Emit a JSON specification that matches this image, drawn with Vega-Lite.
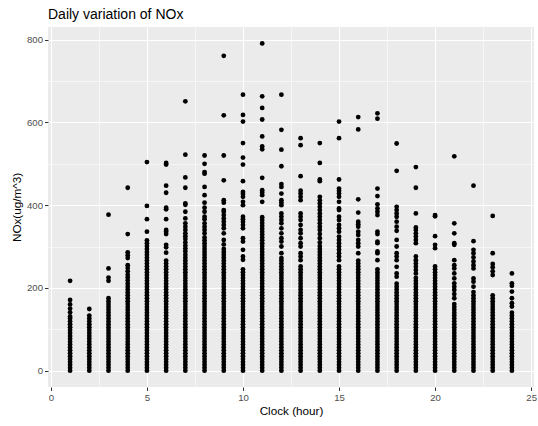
{
"$schema": "https://vega.github.io/schema/vega-lite/v6.json",
"width": 486, "height": 360,
"autosize": {"type": "none"},
"padding": {"left": 48, "top": 27, "right": 4, "bottom": 39},
"background": "white",
"title": {"text": "Daily variation of NOx", "anchor": "start", "frame": "group", "fontSize": 14, "font": "Liberation Sans", "fontWeight": "normal", "color": "black", "offset": 5},
"config": {"view": {"fill": "#EBEBEB", "stroke": null}, "font": "Liberation Sans"},
"data": {"format": {"type": "csv", "parse": {"h": "number", "v": "number"}}, "values": "h,v\n1,0\n1,7\n1,14\n1,21\n1,28\n1,35\n1,42\n1,49\n1,56\n1,63\n1,70\n1,77\n1,84\n1,91\n1,98\n1,105\n1,112\n1,119\n1,126\n1,131\n1,141\n1,150\n1,160\n1,171\n1,217\n2,0\n2,7\n2,14\n2,21\n2,28\n2,35\n2,42\n2,49\n2,56\n2,63\n2,70\n2,77\n2,84\n2,91\n2,98\n2,105\n2,112\n2,119\n2,126\n2,133\n2,149\n3,0\n3,7\n3,14\n3,21\n3,28\n3,35\n3,42\n3,49\n3,56\n3,63\n3,70\n3,77\n3,84\n3,91\n3,98\n3,105\n3,112\n3,119\n3,126\n3,133\n3,140\n3,147\n3,154\n3,161\n3,168\n3,175\n3,217\n3,225\n3,247\n3,377\n4,0\n4,7\n4,14\n4,21\n4,28\n4,35\n4,42\n4,49\n4,56\n4,63\n4,70\n4,77\n4,84\n4,91\n4,98\n4,105\n4,112\n4,119\n4,126\n4,133\n4,140\n4,147\n4,154\n4,161\n4,168\n4,175\n4,182\n4,189\n4,196\n4,203\n4,210\n4,218\n4,225\n4,232\n4,240\n4,248\n4,255\n4,272\n4,279\n4,286\n4,330\n4,442\n5,0\n5,7\n5,14\n5,21\n5,28\n5,35\n5,42\n5,49\n5,56\n5,63\n5,70\n5,77\n5,84\n5,91\n5,98\n5,105\n5,112\n5,119\n5,126\n5,133\n5,140\n5,147\n5,154\n5,161\n5,168\n5,175\n5,182\n5,189\n5,196\n5,203\n5,210\n5,217\n5,224\n5,231\n5,238\n5,245\n5,252\n5,259\n5,266\n5,273\n5,280\n5,287\n5,294\n5,301\n5,308\n5,315\n5,336\n5,366\n5,398\n5,504\n6,0\n6,7\n6,14\n6,21\n6,28\n6,35\n6,42\n6,49\n6,56\n6,63\n6,70\n6,77\n6,84\n6,91\n6,98\n6,105\n6,112\n6,119\n6,126\n6,133\n6,140\n6,147\n6,154\n6,161\n6,168\n6,175\n6,182\n6,189\n6,196\n6,203\n6,210\n6,217\n6,224\n6,231\n6,238\n6,245\n6,252\n6,259\n6,266\n6,285\n6,298\n6,304\n6,330\n6,336\n6,340\n6,366\n6,390\n6,394\n6,430\n6,447\n6,498\n6,502\n7,0\n7,7\n7,14\n7,21\n7,28\n7,35\n7,42\n7,49\n7,56\n7,63\n7,70\n7,77\n7,84\n7,91\n7,98\n7,105\n7,112\n7,119\n7,126\n7,133\n7,140\n7,147\n7,154\n7,161\n7,168\n7,175\n7,182\n7,189\n7,196\n7,203\n7,210\n7,217\n7,224\n7,231\n7,238\n7,245\n7,252\n7,259\n7,266\n7,273\n7,280\n7,288\n7,295\n7,302\n7,310\n7,318\n7,325\n7,332\n7,340\n7,348\n7,356\n7,368\n7,384\n7,401\n7,404\n7,442\n7,467\n7,522\n7,651\n8,0\n8,7\n8,14\n8,21\n8,28\n8,35\n8,42\n8,49\n8,56\n8,63\n8,70\n8,77\n8,84\n8,91\n8,98\n8,105\n8,112\n8,119\n8,126\n8,133\n8,140\n8,147\n8,154\n8,161\n8,168\n8,175\n8,182\n8,189\n8,196\n8,203\n8,210\n8,217\n8,224\n8,231\n8,238\n8,245\n8,252\n8,259\n8,266\n8,273\n8,280\n8,287\n8,294\n8,301\n8,308\n8,315\n8,322\n8,332\n8,340\n8,348\n8,356\n8,366\n8,372\n8,384\n8,394\n8,406\n8,424\n8,444\n8,476\n8,480\n8,500\n8,520\n9,0\n9,7\n9,14\n9,21\n9,28\n9,35\n9,42\n9,49\n9,56\n9,63\n9,70\n9,77\n9,84\n9,91\n9,98\n9,105\n9,112\n9,119\n9,126\n9,133\n9,140\n9,147\n9,154\n9,161\n9,168\n9,175\n9,182\n9,189\n9,196\n9,203\n9,210\n9,217\n9,224\n9,231\n9,238\n9,245\n9,252\n9,259\n9,266\n9,273\n9,280\n9,287\n9,294\n9,305\n9,316\n9,332\n9,344\n9,352\n9,360\n9,368\n9,376\n9,384\n9,388\n9,406\n9,412\n9,460\n9,520\n9,617\n9,761\n10,0\n10,7\n10,14\n10,21\n10,28\n10,35\n10,42\n10,49\n10,56\n10,63\n10,70\n10,77\n10,84\n10,91\n10,98\n10,105\n10,112\n10,119\n10,126\n10,133\n10,140\n10,147\n10,154\n10,161\n10,168\n10,175\n10,182\n10,189\n10,196\n10,203\n10,210\n10,217\n10,224\n10,231\n10,238\n10,245\n10,268\n10,276\n10,292\n10,312\n10,320\n10,344\n10,352\n10,360\n10,366\n10,372\n10,400\n10,408\n10,420\n10,427\n10,432\n10,458\n10,498\n10,515\n10,550\n10,602\n10,618\n10,667\n11,0\n11,7\n11,14\n11,21\n11,28\n11,35\n11,42\n11,49\n11,56\n11,63\n11,70\n11,77\n11,84\n11,91\n11,98\n11,105\n11,112\n11,119\n11,126\n11,133\n11,140\n11,147\n11,154\n11,161\n11,168\n11,175\n11,182\n11,189\n11,196\n11,203\n11,210\n11,217\n11,224\n11,231\n11,238\n11,245\n11,252\n11,259\n11,266\n11,273\n11,280\n11,287\n11,294\n11,301\n11,308\n11,315\n11,322\n11,329\n11,336\n11,343\n11,350\n11,357\n11,364\n11,371\n11,408\n11,424\n11,430\n11,436\n11,466\n11,535\n11,542\n11,566\n11,607\n11,635\n11,663\n11,791\n12,0\n12,7\n12,14\n12,21\n12,28\n12,35\n12,42\n12,49\n12,56\n12,63\n12,70\n12,77\n12,84\n12,91\n12,98\n12,105\n12,112\n12,119\n12,126\n12,133\n12,140\n12,147\n12,154\n12,161\n12,168\n12,175\n12,182\n12,189\n12,196\n12,203\n12,210\n12,217\n12,224\n12,231\n12,238\n12,245\n12,252\n12,259\n12,266\n12,272\n12,284\n12,300\n12,312\n12,320\n12,332\n12,344\n12,356\n12,364\n12,372\n12,380\n12,400\n12,406\n12,412\n12,428\n12,444\n12,451\n12,494\n12,534\n12,582\n12,667\n13,0\n13,7\n13,14\n13,21\n13,28\n13,35\n13,42\n13,49\n13,56\n13,63\n13,70\n13,77\n13,84\n13,91\n13,98\n13,105\n13,112\n13,119\n13,126\n13,133\n13,140\n13,147\n13,154\n13,161\n13,168\n13,175\n13,182\n13,189\n13,196\n13,203\n13,210\n13,217\n13,224\n13,231\n13,238\n13,245\n13,252\n13,267\n13,276\n13,284\n13,300\n13,308\n13,320\n13,332\n13,340\n13,352\n13,364\n13,372\n13,380\n13,412\n13,420\n13,428\n13,435\n13,470\n13,545\n13,562\n14,0\n14,7\n14,14\n14,21\n14,28\n14,35\n14,42\n14,49\n14,56\n14,63\n14,70\n14,77\n14,84\n14,91\n14,98\n14,105\n14,112\n14,119\n14,126\n14,133\n14,140\n14,147\n14,154\n14,161\n14,168\n14,175\n14,182\n14,189\n14,196\n14,203\n14,210\n14,217\n14,224\n14,231\n14,238\n14,245\n14,252\n14,259\n14,266\n14,273\n14,280\n14,287\n14,294\n14,301\n14,310\n14,320\n14,330\n14,340\n14,348\n14,356\n14,364\n14,372\n14,380\n14,388\n14,396\n14,404\n14,412\n14,420\n14,458\n14,462\n14,502\n14,550\n15,0\n15,7\n15,14\n15,21\n15,28\n15,35\n15,42\n15,49\n15,56\n15,63\n15,70\n15,77\n15,84\n15,91\n15,98\n15,105\n15,112\n15,119\n15,126\n15,133\n15,140\n15,147\n15,154\n15,161\n15,168\n15,175\n15,182\n15,189\n15,196\n15,203\n15,210\n15,217\n15,224\n15,231\n15,238\n15,245\n15,252\n15,267\n15,276\n15,284\n15,292\n15,300\n15,308\n15,316\n15,324\n15,336\n15,344\n15,352\n15,364\n15,372\n15,388\n15,392\n15,408\n15,420\n15,428\n15,435\n15,440\n15,462\n15,562\n15,602\n16,0\n16,7\n16,14\n16,21\n16,28\n16,35\n16,42\n16,49\n16,56\n16,63\n16,70\n16,77\n16,84\n16,91\n16,98\n16,105\n16,112\n16,119\n16,126\n16,133\n16,140\n16,147\n16,154\n16,161\n16,168\n16,175\n16,182\n16,189\n16,196\n16,203\n16,210\n16,217\n16,224\n16,231\n16,238\n16,245\n16,252\n16,259\n16,266\n16,284\n16,300\n16,308\n16,316\n16,328\n16,336\n16,348\n16,354\n16,360\n16,382\n16,414\n16,583\n16,613\n17,0\n17,7\n17,14\n17,21\n17,28\n17,35\n17,42\n17,49\n17,56\n17,63\n17,70\n17,77\n17,84\n17,91\n17,98\n17,105\n17,112\n17,119\n17,126\n17,133\n17,140\n17,147\n17,154\n17,161\n17,168\n17,175\n17,182\n17,189\n17,196\n17,203\n17,210\n17,217\n17,224\n17,231\n17,238\n17,245\n17,267\n17,284\n17,288\n17,308\n17,312\n17,330\n17,336\n17,376\n17,384\n17,392\n17,402\n17,422\n17,440\n17,609\n17,622\n18,0\n18,7\n18,14\n18,21\n18,28\n18,35\n18,42\n18,49\n18,56\n18,63\n18,70\n18,77\n18,84\n18,91\n18,98\n18,105\n18,112\n18,119\n18,126\n18,133\n18,140\n18,147\n18,154\n18,161\n18,168\n18,175\n18,182\n18,189\n18,196\n18,203\n18,210\n18,227\n18,235\n18,251\n18,267\n18,276\n18,284\n18,300\n18,316\n18,338\n18,348\n18,360\n18,372\n18,380\n18,388\n18,396\n18,483\n18,549\n19,0\n19,7\n19,14\n19,21\n19,28\n19,35\n19,42\n19,49\n19,56\n19,63\n19,70\n19,77\n19,84\n19,91\n19,98\n19,105\n19,112\n19,119\n19,126\n19,133\n19,140\n19,147\n19,154\n19,161\n19,168\n19,175\n19,182\n19,189\n19,196\n19,203\n19,210\n19,217\n19,224\n19,235\n19,243\n19,251\n19,259\n19,267\n19,276\n19,308\n19,316\n19,324\n19,332\n19,340\n19,346\n19,380\n19,442\n19,492\n20,0\n20,7\n20,14\n20,21\n20,28\n20,35\n20,42\n20,49\n20,56\n20,63\n20,70\n20,77\n20,84\n20,91\n20,98\n20,105\n20,112\n20,119\n20,126\n20,133\n20,140\n20,147\n20,154\n20,161\n20,168\n20,175\n20,182\n20,189\n20,196\n20,203\n20,210\n20,217\n20,224\n20,231\n20,238\n20,245\n20,252\n20,296\n20,304\n20,325\n20,373\n20,376\n21,0\n21,7\n21,14\n21,21\n21,28\n21,35\n21,42\n21,49\n21,56\n21,63\n21,70\n21,77\n21,84\n21,91\n21,98\n21,105\n21,112\n21,119\n21,126\n21,133\n21,140\n21,147\n21,154\n21,161\n21,175\n21,185\n21,195\n21,203\n21,211\n21,223\n21,235\n21,247\n21,255\n21,267\n21,304\n21,308\n21,332\n21,356\n21,518\n22,0\n22,7\n22,14\n22,21\n22,28\n22,35\n22,42\n22,49\n22,56\n22,63\n22,70\n22,77\n22,84\n22,91\n22,98\n22,105\n22,112\n22,119\n22,126\n22,133\n22,140\n22,147\n22,154\n22,161\n22,168\n22,175\n22,182\n22,190\n22,203\n22,215\n22,223\n22,247\n22,255\n22,264\n22,274\n22,284\n22,292\n22,313\n22,447\n23,0\n23,7\n23,14\n23,21\n23,28\n23,35\n23,42\n23,49\n23,56\n23,63\n23,70\n23,77\n23,84\n23,91\n23,98\n23,105\n23,112\n23,119\n23,126\n23,133\n23,140\n23,147\n23,154\n23,161\n23,168\n23,175\n23,182\n23,231\n23,240\n23,250\n23,258\n23,284\n23,374\n24,0\n24,7\n24,14\n24,21\n24,28\n24,35\n24,42\n24,49\n24,56\n24,63\n24,70\n24,77\n24,84\n24,91\n24,98\n24,105\n24,112\n24,119\n24,126\n24,133\n24,140\n24,155\n24,163\n24,175\n24,191\n24,205\n24,211\n24,235"},
"mark": {"type": "circle", "size": 23, "color": "black", "opacity": 1},
"encoding": {
"x": {"field": "h", "type": "quantitative",
 "scale": {"domain": [-0.15, 25.15], "nice": false, "zero": false},
 "axis": {"title": "Clock (hour)", "values": [0, 2.5, 5, 7.5, 10, 12.5, 15, 17.5, 20, 22.5, 25], "format": "d",
  "labelExpr": "datum.value % 5 === 0 ? datum.label : ''",
  "grid": true, "gridColor": "white",
  "gridWidth": {"condition": {"test": "datum.value % 5 === 0", "value": 1.1}, "value": 0.55},
  "domain": false, "tickColor": "#333333", "tickSize": 3.5, "tickWidth": 1,
  "tickOpacity": {"condition": {"test": "datum.value % 5 === 0", "value": 1}, "value": 0},
  "labelColor": "#4D4D4D", "labelFontSize": 9.6, "labelPadding": 2, "labelFlush": false, "labelOverlap": false,
  "titleFontSize": 11.7, "titleColor": "black", "titleFontWeight": "normal", "titlePadding": 3}},
"y": {"field": "v", "type": "quantitative",
 "scale": {"domain": [-39.55, 830.6], "nice": false, "zero": false},
 "axis": {"title": "NOx(ug/m^3)", "values": [0, 100, 200, 300, 400, 500, 600, 700, 800], "format": "d",
  "labelExpr": "datum.value % 200 === 0 ? datum.label : ''",
  "grid": true, "gridColor": "white",
  "gridWidth": {"condition": {"test": "datum.value % 200 === 0", "value": 1.1}, "value": 0.55},
  "domain": false, "tickColor": "#333333", "tickSize": 3.5, "tickWidth": 1,
  "tickOpacity": {"condition": {"test": "datum.value % 200 === 0", "value": 1}, "value": 0},
  "labelColor": "#4D4D4D", "labelFontSize": 9.6, "labelPadding": 2, "labelFlush": false, "labelOverlap": false,
  "titleFontSize": 11.7, "titleColor": "black", "titleFontWeight": "normal", "titlePadding": 4}}
}
}
